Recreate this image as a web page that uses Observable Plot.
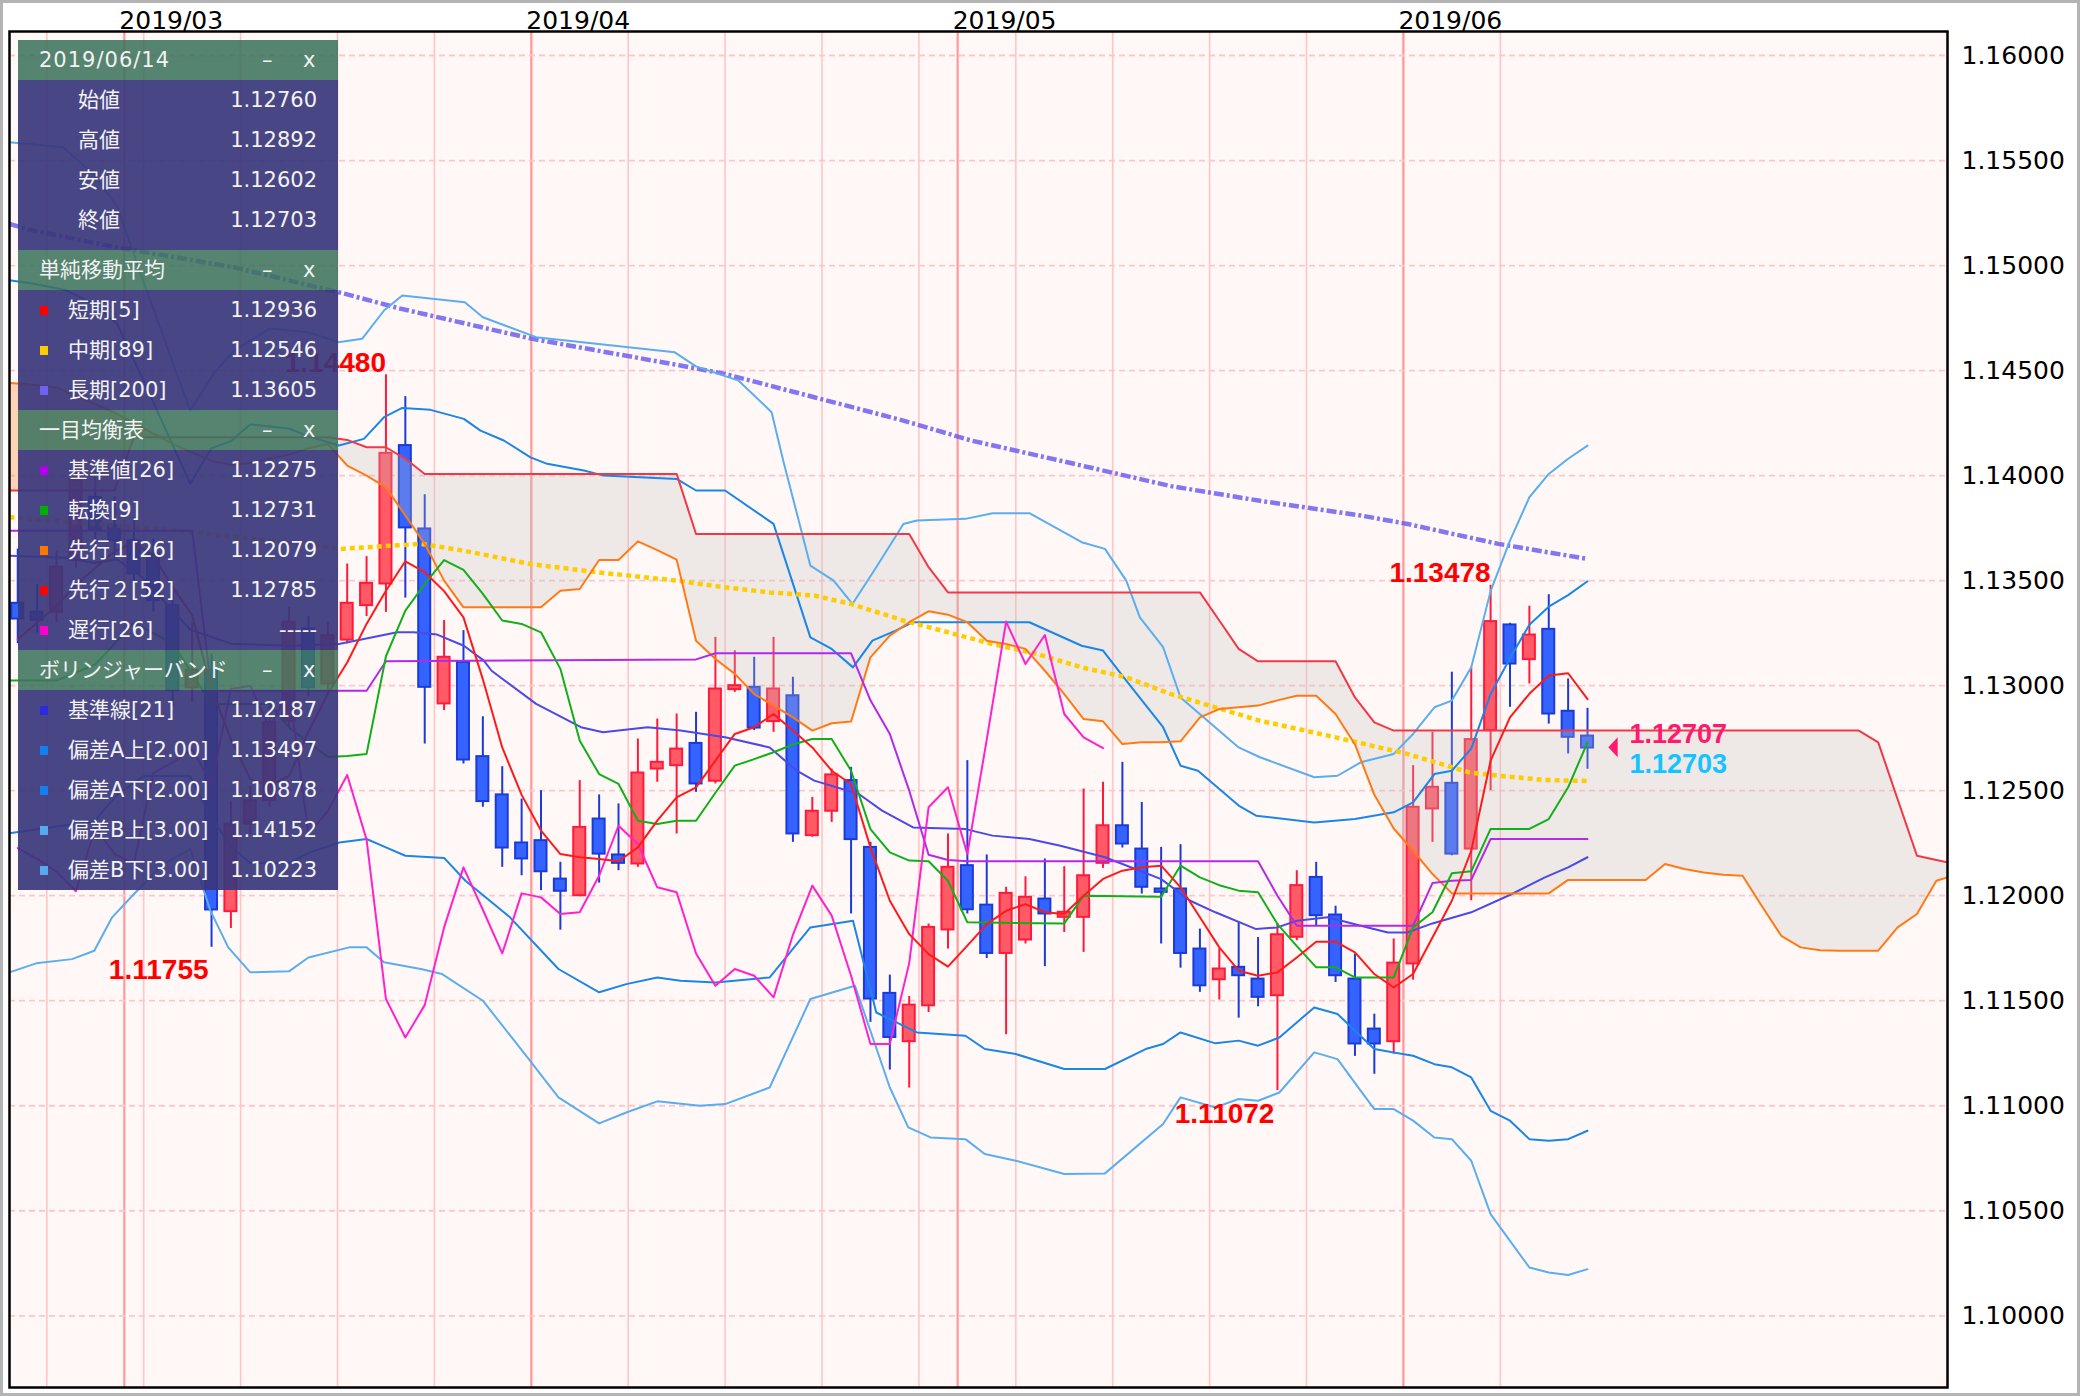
<!DOCTYPE html>
<html><head><meta charset="utf-8">
<script src="https://cdn.jsdelivr.net/npm/d3@7"></script>
<script src="https://cdn.jsdelivr.net/npm/@observablehq/plot@0.6"></script>
<style>
html,body{margin:0;padding:0;background:#fff;}
#wrap{position:relative;width:2080px;height:1396px;overflow:hidden;background:#fff;}
#wrap svg{display:block;}
#border{position:absolute;left:0;top:0;width:2080px;height:1396px;box-sizing:border-box;border:3px solid #b4b4b4;pointer-events:none;}
#panel{position:absolute;left:18px;top:40px;width:320px;font-family:"DejaVu Sans","Noto Sans CJK JP",sans-serif;color:#f2f2f2;}
.hd{height:40px;background:rgba(62,115,95,0.88);position:relative;font-size:21px;line-height:40px;}
.hd span{position:absolute;top:0;}
.bd{background:rgba(58,54,124,0.92);}
.bd.first{padding-bottom:10px;}
.row{height:40px;position:relative;line-height:40px;font-size:21px;}
.row .mk{position:absolute;left:22px;top:16px;width:8px;height:9px;}
.row .lb{position:absolute;left:50px;top:0;}
.row .lb.nomk{left:60px;}
.row .vl{position:absolute;right:21px;top:0;}
</style>
</head><body>
<div id="wrap"><div id="border"></div></div>
<script>
// ---------- candles (day index 0 = 2019-02-25, weekdays only) ----------
const dayIdx = d3.range(-2, 80);
const opens = [1.13392,1.13349,1.13349,1.13595,1.13897,1.13760,1.13690,1.13627,1.13381,1.12990,1.13072,1.11924,1.12341,1.12452,1.12830,1.13270,1.13008,1.13217,1.13381,1.13484,1.14143,1.13746,1.12913,1.13111,1.12662,1.12480,1.12251,1.12262,1.12079,1.12000,1.12365,1.12194,1.12151,1.12603,1.12619,1.12725,1.12545,1.12981,1.12992,1.12829,1.12952,1.12286,1.12402,1.12548,1.12230,1.11535,1.11305,1.11476,1.11837,1.12143,1.11955,1.11725,1.11789,1.11984,1.11897,1.11897,1.12154,1.12333,1.12222,1.12032,1.12032,1.11746,1.11600,1.11659,1.11603,1.11524,1.11802,1.12087,1.11908,1.11603,1.11365,1.11305,1.11675,1.12413,1.12535,1.12222,1.12786,1.13289,1.13124,1.13268,1.12878,1.12760];
const highs = [1.13650,1.13480,1.13640,1.14050,1.13990,1.13900,1.13800,1.13700,1.13450,1.13300,1.13150,1.12450,1.12520,1.12900,1.13373,1.13330,1.13300,1.13579,1.13614,1.14480,1.14376,1.13909,1.13310,1.13262,1.12852,1.12614,1.12460,1.12500,1.12159,1.12548,1.12480,1.12437,1.12746,1.12841,1.12865,1.12873,1.13230,1.13166,1.13135,1.13230,1.13040,1.12468,1.12603,1.12611,1.12254,1.11622,1.11520,1.11865,1.12294,1.12643,1.12194,1.12040,1.12090,1.12175,1.12138,1.12508,1.12540,1.12635,1.12444,1.12230,1.12243,1.11841,1.11746,1.11873,1.11801,1.11868,1.12119,1.12159,1.11950,1.11722,1.11436,1.11794,1.12619,1.12778,1.13064,1.13087,1.13478,1.13297,1.13378,1.13433,1.13032,1.12892];
const lows = [1.13200,1.13250,1.13300,1.13560,1.13650,1.13600,1.13450,1.13350,1.12900,1.12920,1.11755,1.11844,1.12290,1.12420,1.12800,1.12950,1.12960,1.13199,1.13329,1.13349,1.13417,1.12722,1.12881,1.12627,1.12421,1.12135,1.12095,1.12024,1.11836,1.11995,1.12060,1.12119,1.12135,1.12540,1.12294,1.12492,1.12532,1.12968,1.12786,1.12778,1.12254,1.12278,1.12349,1.11913,1.11397,1.11170,1.11084,1.11444,1.11746,1.11913,1.11701,1.11338,1.11770,1.11662,1.11825,1.11730,1.12130,1.12227,1.12008,1.11770,1.11655,1.11540,1.11503,1.11417,1.11471,1.11072,1.11786,1.11857,1.11587,1.11235,1.11150,1.11246,1.11598,1.12254,1.12190,1.11976,1.12500,1.12897,1.13008,1.12817,1.12675,1.12602];
const closes = [1.13317,1.13310,1.13564,1.13976,1.13738,1.13690,1.13532,1.13405,1.12976,1.13072,1.11932,1.12341,1.12452,1.12825,1.13302,1.12990,1.13238,1.13392,1.13487,1.14106,1.13751,1.12992,1.13135,1.12646,1.12448,1.12227,1.12175,1.12114,1.12021,1.12325,1.12198,1.12154,1.12584,1.12635,1.12698,1.12532,1.12984,1.13000,1.12798,1.12984,1.12294,1.12402,1.12575,1.12267,1.11508,1.11325,1.11479,1.11849,1.12135,1.11933,1.11725,1.12011,1.11992,1.11913,1.11921,1.12095,1.12333,1.12246,1.12040,1.12016,1.11725,1.11571,1.11651,1.11619,1.11516,1.11814,1.12048,1.11905,1.11619,1.11294,1.11294,1.11679,1.12421,1.12516,1.12198,1.12743,1.13305,1.13103,1.13241,1.12865,1.12754,1.12703];

// ---------- ichimoku cloud (senkou spans, daily) ----------
const cloudIdx = d3.range(-3, 99);
const senkouA = [1.14445,1.14438,1.14430,1.14420,1.14380,1.14340,1.14300,1.14250,1.14200,1.14150,1.14110,1.14070,1.14050,1.14060,1.14080,1.14100,1.14130,1.14150,1.14048,1.14000,1.13944,1.13810,1.13675,1.13500,1.13373,1.13373,1.13373,1.13373,1.13373,1.13452,1.13460,1.13598,1.13598,1.13687,1.13645,1.13600,1.13214,1.13127,1.13056,1.12960,1.12905,1.12849,1.12786,1.12821,1.12829,1.13135,1.13238,1.13302,1.13354,1.13338,1.13302,1.13214,1.13198,1.13175,1.13071,1.12960,1.12841,1.12830,1.12722,1.12730,1.12730,1.12735,1.12849,1.12889,1.12897,1.12905,1.12930,1.12952,1.12952,1.12865,1.12720,1.12480,1.12320,1.12214,1.12103,1.12011,1.12011,1.12011,1.12011,1.12011,1.12011,1.12075,1.12075,1.12075,1.12075,1.12075,1.12151,1.12127,1.12110,1.12100,1.12095,1.11950,1.11809,1.11754,1.11740,1.11738,1.11738,1.11738,1.11849,1.11913,1.12071,1.12100];
const senkouB = [1.13929,1.13929,1.13929,1.13929,1.13929,1.13929,1.13929,1.14183,1.14183,1.14183,1.14183,1.14183,1.14183,1.14183,1.14183,1.14183,1.14183,1.14183,1.14170,1.14135,1.14135,1.14080,1.14008,1.14008,1.14008,1.14008,1.14008,1.14008,1.14008,1.14008,1.14008,1.14008,1.14008,1.14008,1.14008,1.14008,1.13722,1.13722,1.13722,1.13722,1.13722,1.13722,1.13722,1.13722,1.13722,1.13722,1.13722,1.13722,1.13564,1.13444,1.13444,1.13444,1.13444,1.13444,1.13444,1.13444,1.13444,1.13444,1.13444,1.13444,1.13444,1.13444,1.13444,1.13310,1.13175,1.13116,1.13116,1.13116,1.13116,1.13116,1.12944,1.12825,1.12786,1.12786,1.12786,1.12786,1.12786,1.12786,1.12786,1.12786,1.12786,1.12786,1.12786,1.12786,1.12786,1.12786,1.12786,1.12786,1.12786,1.12786,1.12786,1.12786,1.12786,1.12786,1.12786,1.12786,1.12786,1.12730,1.12460,1.12190,1.12170,1.12150];

// ---------- chikou (lagging span) ----------
const chikouIdx = d3.range(-2, 55);
const chikou = [1.12227,1.12175,1.12114,1.12021,1.12325,1.12198,1.12154,1.12584,1.12635,1.12698,1.12532,1.12984,1.13000,1.12798,1.12984,1.12294,1.12402,1.12575,1.12267,1.11508,1.11325,1.11479,1.11849,1.12135,1.11933,1.11725,1.12011,1.11992,1.11913,1.11921,1.12095,1.12333,1.12246,1.12040,1.12016,1.11725,1.11571,1.11651,1.11619,1.11516,1.11814,1.12048,1.11905,1.11619,1.11294,1.11294,1.11679,1.12421,1.12516,1.12198,1.12743,1.13305,1.13103,1.13241,1.12865,1.12754,1.12703];

// ---------- indicator lines, [day, value] ----------
const sma5 = [[-2,1.13220],[-1,1.13300],[0,1.13380],[1,1.13480],[2,1.13560],[3,1.13640],[4,1.13680],[5,1.13620],[6,1.13468],[7,1.13335],[8,1.12983],[9,1.12745],[10,1.12555],[11,1.12524],[12,1.12570],[13,1.12782],[14,1.12961],[15,1.13110],[16,1.13294],[17,1.13452],[18,1.13592],[19,1.13540],[20,1.13450],[21,1.13325],[22,1.13030],[23,1.12706],[24,1.12480],[25,1.12310],[26,1.12198],[27,1.12183],[28,1.12175],[29,1.12164],[30,1.12230],[31,1.12357],[32,1.12468],[33,1.12516],[34,1.12643],[35,1.12770],[36,1.12802],[37,1.12865],[38,1.12786],[39,1.12706],[40,1.12595],[41,1.12532],[42,1.12230],[43,1.11976],[44,1.11817],[45,1.11722],[46,1.11662],[47,1.11762],[48,1.11865],[49,1.11928],[50,1.11960],[51,1.11921],[52,1.11913],[53,1.12000],[54,1.12080],[55,1.12119],[56,1.12135],[57,1.12143],[58,1.12040],[59,1.11897],[60,1.11754],[61,1.11643],[62,1.11619],[63,1.11635],[64,1.11706],[65,1.11781],[66,1.11781],[67,1.11730],[68,1.11627],[69,1.11563],[70,1.11627],[71,1.11801],[72,1.11976],[73,1.12214],[74,1.12643],[75,1.12849],[76,1.12961],[77,1.13048],[78,1.13059],[79,1.12936]];
const sma89 = [[-2.43,1.13802],[2,1.13770],[6,1.13740],[10,1.13700],[14.66,1.13651],[18.8,1.13675],[21,1.13643],[24.46,1.13579],[27.9,1.13540],[32,1.13500],[34.5,1.13468],[36.8,1.13444],[39.1,1.13429],[41,1.13389],[43.7,1.13310],[46,1.13254],[48.3,1.13198],[50.6,1.13151],[52.9,1.13087],[55.2,1.13040],[57.5,1.12960],[59.8,1.12897],[62.1,1.12833],[64.45,1.12786],[66.75,1.12738],[69.7,1.12675],[72.9,1.12587],[74.4,1.12571],[76.8,1.12551],[79,1.12546]];
const sma200 = [[-2.43,1.15198],[-1.2,1.15167],[3.1,1.15087],[9.15,1.14992],[14.9,1.14865],[17.65,1.14797],[24.5,1.14652],[32.2,1.14524],[34.5,1.14484],[39.1,1.14373],[43.7,1.14262],[47.2,1.14167],[51.8,1.14071],[57.5,1.13950],[62.1,1.13880],[67.3,1.13810],[69.7,1.13770],[74.4,1.13675],[79,1.13603]];
const kijun = [[-2.43,1.13738],[7,1.13738],[8,1.12976],[16,1.12976],[17,1.13116],[33,1.13125],[34,1.13154],[41,1.13154],[42,1.12930],[43,1.12770],[44,1.12500],[45,1.12195],[46,1.12170],[47,1.12164],[62,1.12164],[63,1.12000],[64,1.11857],[70,1.11857],[71,1.12060],[72,1.12071],[73,1.12075],[74,1.12270],[79,1.12270]];
const tenkan = [[-2.43,1.13024],[0,1.13024],[2,1.13100],[4,1.13300],[6,1.13200],[8,1.12913],[11,1.12913],[12,1.12800],[14,1.12660],[15,1.12665],[16,1.12675],[17,1.13140],[18,1.13357],[19,1.13484],[20,1.13598],[21,1.13551],[22,1.13437],[23,1.13310],[24,1.13294],[25,1.13254],[26,1.13080],[27,1.12738],[28,1.12579],[29,1.12532],[30,1.12357],[31,1.12341],[32,1.12357],[33,1.12357],[34,1.12490],[35,1.12619],[36,1.12650],[37,1.12683],[38,1.12720],[39,1.12746],[40,1.12746],[41,1.12595],[42,1.12317],[43,1.12206],[44,1.12167],[45,1.12164],[46,1.12071],[47,1.11873],[52,1.11868],[53,1.12000],[57,1.11995],[58,1.12143],[59,1.12087],[60,1.12050],[61,1.12024],[62,1.12016],[63,1.11865],[64,1.11760],[65,1.11659],[66,1.11659],[67,1.11611],[69,1.11611],[70,1.11849],[71,1.11921],[72,1.12107],[73,1.12116],[74,1.12318],[76,1.12318],[77,1.12365],[78,1.12516],[79,1.12730]];
const bbMid = [[-2.43,1.13619],[0.55,1.13609],[1.93,1.13584],[3.13,1.13601],[4.5,1.13510],[6.9,1.13266],[9,1.13200],[12,1.13190],[14.57,1.13198],[15.86,1.13222],[17.58,1.13254],[18.44,1.13254],[19.64,1.13243],[21.02,1.13190],[22.05,1.13119],[22.45,1.13071],[24.75,1.12913],[27.06,1.12802],[28.2,1.12778],[30.5,1.12802],[32.2,1.12786],[34.5,1.12754],[36.8,1.12706],[38.2,1.12595],[39.1,1.12548],[41.4,1.12484],[42.6,1.12405],[44.2,1.12325],[46.9,1.12317],[48.3,1.12286],[50.2,1.12270],[51.8,1.12238],[54.1,1.12183],[55.9,1.12119],[57,1.12079],[58.5,1.11976],[59.8,1.11921],[61.9,1.11841],[63,1.11849],[64,1.11881],[65.6,1.11897],[67.3,1.11857],[68.7,1.11825],[69.7,1.11825],[71,1.11868],[73,1.11921],[75.1,1.12008],[76.8,1.12087],[78,1.12135],[79,1.12183]];
const bb2up = [[-2.43,1.14930],[-1.17,1.14913],[0.55,1.14881],[1.93,1.14817],[3.13,1.14722],[4.5,1.14450],[6.9,1.13962],[8,1.14130],[9,1.14164],[10,1.14244],[12,1.14224],[13,1.14187],[14.57,1.14143],[15.86,1.14175],[16.9,1.14278],[17.84,1.14322],[19.3,1.14313],[21.02,1.14270],[21.88,1.14214],[23.08,1.14167],[24.46,1.14087],[25.32,1.14056],[27.21,1.14024],[28.24,1.14000],[32,1.13984],[33,1.13929],[34.5,1.13929],[37,1.13770],[38.9,1.13230],[40,1.13175],[41.1,1.13087],[42.1,1.13214],[43.3,1.13262],[44.2,1.13302],[50.2,1.13302],[52.9,1.13190],[54,1.13167],[55.2,1.13024],[57.1,1.12802],[58,1.12619],[58.9,1.12595],[61,1.12429],[61.9,1.12381],[64.9,1.12349],[67,1.12365],[69,1.12397],[70,1.12444],[71.1,1.12579],[72,1.12595],[73,1.12700],[74,1.12960],[75,1.13130],[76,1.13290],[77,1.13376],[78,1.13431],[79,1.13497]];
const bb2dn = [[-2.43,1.12297],[0.55,1.12337],[1.93,1.12351],[3.13,1.12481],[4.5,1.12570],[6.9,1.12570],[8,1.12370],[9,1.12236],[10,1.12156],[12,1.12156],[13,1.12203],[14.6,1.12253],[16,1.12270],[17,1.12230],[18,1.12190],[20,1.12180],[21.1,1.12071],[23.4,1.11897],[25.9,1.11651],[28,1.11540],[29.4,1.11579],[31,1.11611],[32.2,1.11595],[34,1.11587],[36.8,1.11611],[38.9,1.11849],[41.1,1.11881],[42.3,1.11444],[44.4,1.11349],[46.9,1.11333],[47.9,1.11270],[49.5,1.11246],[52,1.11175],[54.1,1.11175],[56.2,1.11270],[57.1,1.11294],[58,1.11349],[59.8,1.11297],[61,1.11310],[62,1.11286],[63.1,1.11325],[64.9,1.11468],[66.1,1.11437],[67,1.11357],[68,1.11270],[69,1.11254],[70,1.11238],[71.1,1.11198],[72,1.11183],[73,1.11135],[74,1.10976],[75,1.10929],[76,1.10841],[77,1.10833],[78,1.10841],[79,1.10881]];
const bb3up = [[-2.43,1.15587],[0.34,1.15563],[1.93,1.15433],[3.13,1.15281],[4.5,1.14920],[6.9,1.14310],[8.1,1.14484],[9.15,1.14595],[11,1.14700],[13,1.14683],[14.55,1.14635],[15.77,1.14651],[16.9,1.14786],[17.84,1.14857],[21.07,1.14825],[22,1.14754],[24.75,1.14659],[31.9,1.14587],[33,1.14520],[35.2,1.14452],[36.9,1.14302],[37.5,1.14071],[38.9,1.13571],[40.1,1.13500],[41.07,1.13389],[42.3,1.13564],[43.7,1.13770],[44.4,1.13786],[46.9,1.13794],[48.3,1.13821],[50.2,1.13821],[52.9,1.13683],[54.1,1.13651],[55.2,1.13500],[55.9,1.13325],[57.1,1.13183],[58,1.12944],[61,1.12706],[62.1,1.12659],[64.9,1.12564],[66.1,1.12571],[67.3,1.12635],[69,1.12675],[70,1.12770],[71.1,1.12897],[72,1.12929],[73,1.13087],[74,1.13450],[75,1.13690],[76,1.13897],[77,1.14008],[78,1.14080],[79,1.14143]];
const bb3dn = [[-2.43,1.11635],[-1.05,1.11678],[0.8,1.11698],[1.95,1.11738],[2.87,1.11897],[4,1.12008],[5.5,1.12150],[6.9,1.12222],[7.94,1.11929],[8.86,1.11754],[10,1.11635],[12,1.11640],[13,1.11706],[15.1,1.11754],[16,1.11754],[16.9,1.11683],[18.8,1.11651],[19.9,1.11627],[22,1.11500],[24.3,1.11230],[25.9,1.11040],[28,1.10916],[29.4,1.10968],[31,1.11021],[33.2,1.11000],[34.5,1.11008],[36.8,1.11087],[38.9,1.11508],[41.2,1.11571],[43,1.11087],[43.95,1.10897],[45.1,1.10849],[46.9,1.10841],[47.9,1.10770],[49.5,1.10738],[52,1.10675],[54.1,1.10678],[57.1,1.10913],[58,1.11040],[59.8,1.10992],[61,1.11032],[62,1.11024],[63.1,1.11063],[64.9,1.11254],[66.1,1.11222],[67.3,1.11071],[68,1.10984],[69,1.10984],[70,1.10929],[71.1,1.10849],[72,1.10841],[73,1.10738],[74,1.10484],[75,1.10357],[76,1.10230],[77,1.10206],[78,1.10194],[79,1.10222]];

// ---------- axes / annotations ----------
const priceTicks = [1.100,1.105,1.110,1.115,1.120,1.125,1.130,1.135,1.140,1.145,1.150,1.155,1.160];
const weekLines = [-0.5,4.5,9.5,14.5,19.5,24.5,29.5,34.5,39.5,44.5,49.5,54.5,59.5,64.5,69.5,74.5];
const monthLines = [3.5,24.5,46.5,69.5];
const monthNames = ["2019/03","2019/04","2019/05","2019/06"];
const highMarks = [{i:17, v:1.14480},{i:74, v:1.13478}];
const lowMarks = [{i:8, v:1.11755},{i:63, v:1.11072}];
const lastMarks = [{i:79, v:1.12707, label:"1.12707", color:"#ff1a6e", dy:-4.5},{i:79, v:1.12703, label:"1.12703", color:"#14c3ff", dy:25}];

// ---------- info panel ----------
const panelSections = [
  {title:"2019/06/14", rows:[["始値","1.12760",null],["高値","1.12892",null],["安値","1.12602",null],["終値","1.12703",null]]},
  {title:"単純移動平均", rows:[["短期[5]","1.12936","#ff0000"],["中期[89]","1.12546","#ffcc00"],["長期[200]","1.13605","#6f62f2"]]},
  {title:"一目均衡表", rows:[["基準値[26]","1.12275","#b000ee"],["転換[9]","1.12731","#00b000"],["先行１[26]","1.12079","#ff7700"],["先行２[52]","1.12785","#ff0000"],["遅行[26]","-----","#ff00cc"]]},
  {title:"ボリンジャーバンド", rows:[["基準線[21]","1.12187","#2a2ae0"],["偏差A上[2.00]","1.13497","#1480f0"],["偏差A下[2.00]","1.10878","#1480f0"],["偏差B上[3.00]","1.14152","#55aaf0"],["偏差B下[3.00]","1.10223","#55aaf0"]]}
];

// ---------- build ----------
const candles = dayIdx.map((i,k)=>({i, o:opens[k], h:highs[k], l:lows[k], c:closes[k]}));
const isUp = d => d.c >= d.o;
const cloud = cloudIdx.map((i,k)=>({i, a:senkouA[k], b:senkouB[k]}));
const pts = arr => arr.map(([i,v])=>({i,v}));
const chikouPts = chikouIdx.map((i,k)=>({i, v:chikou[k]}));
const line = (arr, o) => Plot.line(pts(arr), {x:"i", y:"v", clip:true, strokeWidth:2, ...o});
const boldFont = "'Liberation Sans', Arial, sans-serif";

const chart = Plot.plot({
  width: 2080, height: 1396,
  marginLeft: 9, marginRight: 133, marginTop: 31, marginBottom: 9,
  x: {domain: [-2.425, 97.575], axis: null},
  y: {domain: [1.096586, 1.161143], axis: null},
  style: {fontFamily: "'DejaVu Sans', sans-serif", background: "transparent", overflow: "visible"},
  marks: [
    Plot.frame({fill: "#fff8f7", stroke: "none"}),
    Plot.ruleX(weekLines, {stroke: "#ffc6c6", strokeWidth: 1.6}),
    Plot.ruleX(monthLines, {stroke: "#ff9a9a", strokeWidth: 2.2}),
    Plot.ruleY(priceTicks, {stroke: "#ffc6ca", strokeWidth: 1.8, strokeDasharray: "6,4"}),
    Plot.ruleX(candles, {x: "i", y1: "l", y2: "h", stroke: d => isUp(d) ? "#ff1a3c" : "#1b3bd8", strokeWidth: 2, clip: true}),
    Plot.rect(candles, {x1: d => d.i - 0.31, x2: d => d.i + 0.31, y1: "o", y2: "c",
      fill: d => isUp(d) ? "#ff5a66" : "#3463ff", stroke: d => isUp(d) ? "#ff1a3c" : "#1b3bd8", strokeWidth: 2, clip: true}),
    Plot.areaY(cloud, {x: "i", y1: "a", y2: d => Math.max(d.a, d.b), fill: "#c2c0c0", fillOpacity: 0.28, clip: true}),
    Plot.areaY(cloud, {x: "i", y1: "b", y2: d => Math.max(d.a, d.b), fill: "#ff9450", fillOpacity: 0.38, clip: true}),
    line(sma200, {stroke: "#6d5ff0", strokeOpacity: 0.85, strokeWidth: 4.5, strokeDasharray: "10,3,3,3", strokeLinecap: "butt"}),
    line(bb3up, {stroke: "#5aaef0"}),
    line(bb3dn, {stroke: "#5aaef0"}),
    line(bb2up, {stroke: "#1a86e8"}),
    line(bb2dn, {stroke: "#1a86e8"}),
    line(bbMid, {stroke: "#4a4ae6"}),
    line(sma89, {stroke: "#ffcc00", strokeWidth: 4.5, strokeDasharray: "5,4", strokeLinecap: "butt"}),
    Plot.line(cloud, {x: "i", y: "a", stroke: "#ff7a14", strokeWidth: 2, clip: true}),
    Plot.line(cloud, {x: "i", y: "b", stroke: "#f23848", strokeWidth: 2, clip: true}),
    line(kijun, {stroke: "#b22ae8"}),
    line(tenkan, {stroke: "#10b018"}),
    Plot.line(chikouPts, {x: "i", y: "v", stroke: "#ff22cc", strokeWidth: 2, clip: true}),
    line(sma5, {stroke: "#ff1a1a"}),
    Plot.text(highMarks, {x: "i", y: "v", text: d => d.v.toFixed(5), textAnchor: "end", lineAnchor: "bottom", dy: -3,
      fill: "#ff0000", fontSize: 28, fontWeight: "bold", fontFamily: boldFont}),
    Plot.text(lowMarks, {x: "i", y: "v", text: d => d.v.toFixed(5), textAnchor: "end", lineAnchor: "top", dy: 12, dx: -3,
      fill: "#ff0000", fontSize: 28, fontWeight: "bold", fontFamily: boldFont}),
    Plot.text([lastMarks[0]], {x: "i", y: "v", text: "label", dx: 42, dy: lastMarks[0].dy, textAnchor: "start", lineAnchor: "bottom",
      fill: "color", fontSize: 27, fontWeight: "bold", fontFamily: boldFont}),
    Plot.text([lastMarks[1]], {x: "i", y: "v", text: "label", dx: 42, dy: lastMarks[1].dy, textAnchor: "start", lineAnchor: "bottom",
      fill: "color", fontSize: 27, fontWeight: "bold", fontFamily: boldFont}),
    Plot.dot([lastMarks[0]], {x: "i", y: "v", dx: 25.5, r: 6.7, fill: "#ff1a6e", stroke: "none",
      symbol: {draw(ctx, size) { const r = Math.sqrt(size / Math.PI); ctx.moveTo(-r * 0.7, 0); ctx.lineTo(r * 0.7, -r * 1.5); ctx.lineTo(r * 0.7, r * 1.5); ctx.closePath(); }}}),
    Plot.axisX(monthLines, {anchor: "top", tickSize: 0, tickPadding: 3, tickFormat: d => monthNames[monthLines.indexOf(d)],
      textAnchor: "start", dx: -5, fontSize: 25, label: null}),
    Plot.axisY(priceTicks, {anchor: "right", tickSize: 0, tickPadding: 14, tickFormat: d => d.toFixed(5), fontSize: 25, label: null}),
    Plot.frame({stroke: "#000", strokeWidth: 2.5})
  ]
});
const wrap = document.getElementById("wrap");
wrap.insertBefore(chart, wrap.firstChild);

// info panel overlay
const panel = document.createElement("div");
panel.id = "panel";
panelSections.forEach((sec, s) => {
  const hd = document.createElement("div");
  hd.className = "hd";
  hd.innerHTML = `<span style="left:21px;${s===0?'letter-spacing:1px;':''}">${sec.title}</span><span style="left:244px">–</span><span style="left:285px">x</span>`;
  panel.appendChild(hd);
  const bd = document.createElement("div");
  bd.className = "bd" + (s === 0 ? " first" : "");
  sec.rows.forEach(([lb, vl, col]) => {
    const r = document.createElement("div");
    r.className = "row";
    r.innerHTML = (col ? `<span class="mk" style="background:${col}"></span>` : "") +
      `<span class="lb${col ? "" : " nomk"}">${lb}</span><span class="vl">${vl}</span>`;
    bd.appendChild(r);
  });
  panel.appendChild(bd);
});
wrap.appendChild(panel);
</script>
</body></html>
